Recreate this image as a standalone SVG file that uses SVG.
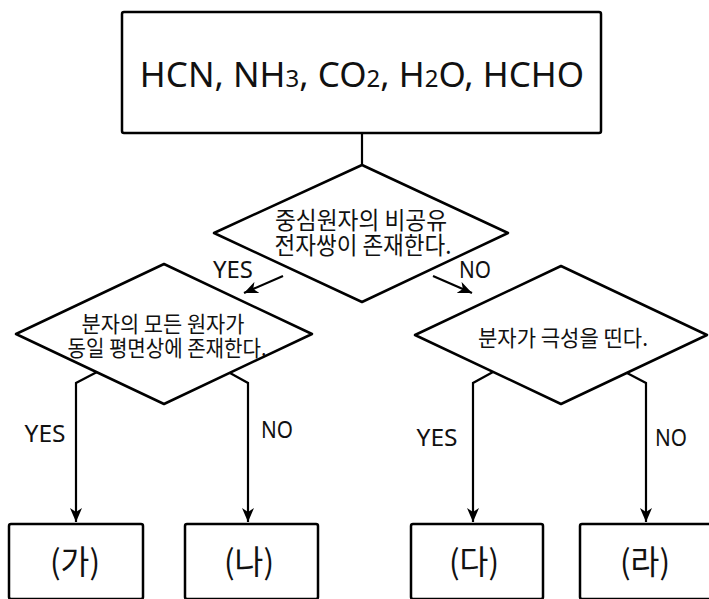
<svg xmlns="http://www.w3.org/2000/svg" width="709" height="599" viewBox="0 0 709 599">
<defs>
<style>
.shape{fill:#fff;stroke:#000;stroke-width:2.5;stroke-linejoin:round}
.conn{fill:none;stroke:#000;stroke-width:2.2}
.t{font-family:"Noto Sans","Noto Sans CJK KR",sans-serif;fill:#111;text-anchor:middle}
.k{font-family:"Noto Sans CJK KR","Noto Sans",sans-serif;fill:#111;text-anchor:middle}
</style>
<marker id="arr" markerUnits="userSpaceOnUse" markerWidth="14" markerHeight="12" refX="14" refY="6" orient="auto">
<path d="M0,0 L14,6 L0,12 L4,6 z" fill="#000"/>
</marker>
</defs>
<rect width="709" height="599" fill="#fff"/>
<g id="connectors">
<line class="conn" x1="362" y1="133" x2="362" y2="165"/>
<line class="conn" x1="283" y1="276" x2="244" y2="293" marker-end="url(#arr)"/>
<line class="conn" x1="433" y1="276" x2="472" y2="293" marker-end="url(#arr)"/>
<polyline class="conn" points="97,372 76,383 76,522" marker-end="url(#arr)"/>
<polyline class="conn" points="230,373 248,383 248,522" marker-end="url(#arr)"/>
<polyline class="conn" points="493,372 473,383 473,522" marker-end="url(#arr)"/>
<polyline class="conn" points="627,373 646,383 646,522" marker-end="url(#arr)"/>
<text class="t" x="233" y="278" font-size="24" textLength="40" lengthAdjust="spacingAndGlyphs">YES</text>
<text class="t" x="475" y="278" font-size="24" textLength="32" lengthAdjust="spacingAndGlyphs">NO</text>
<text class="t" x="45" y="442" font-size="24" textLength="41" lengthAdjust="spacingAndGlyphs">YES</text>
<text class="t" x="277" y="438" font-size="24" textLength="32" lengthAdjust="spacingAndGlyphs">NO</text>
<text class="t" x="437" y="446" font-size="24" textLength="41" lengthAdjust="spacingAndGlyphs">YES</text>
<text class="t" x="671" y="446" font-size="24" textLength="32" lengthAdjust="spacingAndGlyphs">NO</text>
</g>
<g id="start">
<rect class="shape" x="122" y="12" width="479" height="121" rx="2"/>
<text class="t" x="362" y="87" font-size="35">HCN, NH<tspan font-size="24">3</tspan>, CO<tspan font-size="24">2</tspan>, H<tspan font-size="24">2</tspan>O, HCHO</text>
</g>
<g id="q1">
<polygon class="shape" points="362,165 508,233 362,302 214,233"/>
<text class="k" font-size="24"><tspan x="361" y="229" textLength="172" lengthAdjust="spacingAndGlyphs">중심원자의 비공유</tspan><tspan x="363" y="254" textLength="177" lengthAdjust="spacingAndGlyphs">전자쌍이 존재한다.</tspan></text>
</g>
<g id="q2">
<polygon class="shape" points="164,264 312,334 164,404 16,334"/>
<text class="k" font-size="22"><tspan x="163" y="332" textLength="163" lengthAdjust="spacingAndGlyphs">분자의 모든 원자가</tspan><tspan x="167" y="356" textLength="199" lengthAdjust="spacingAndGlyphs">동일 평면상에 존재한다.</tspan></text>
</g>
<g id="q3">
<polygon class="shape" points="561,266 707,335 561,404 415,335"/>
<text class="k" x="563" y="346" font-size="22" textLength="170" lengthAdjust="spacingAndGlyphs">분자가 극성을 띤다.</text>
</g>
<g id="ga">
<rect class="shape" x="9" y="524" width="134" height="75" rx="2"/>
<text class="k" x="75" y="574" font-size="33" textLength="50" lengthAdjust="spacingAndGlyphs">(가)</text>
</g>
<g id="na">
<rect class="shape" x="185" y="524" width="133" height="75" rx="2"/>
<text class="k" x="249" y="574" font-size="33" textLength="50" lengthAdjust="spacingAndGlyphs">(나)</text>
</g>
<g id="da">
<rect class="shape" x="411" y="524" width="132" height="75" rx="2"/>
<text class="k" x="474" y="574" font-size="33" textLength="50" lengthAdjust="spacingAndGlyphs">(다)</text>
</g>
<g id="ra">
<rect class="shape" x="580" y="524" width="140" height="75" rx="2"/>
<text class="k" x="645" y="574" font-size="33" textLength="50" lengthAdjust="spacingAndGlyphs">(라)</text>
</g>
</svg>
